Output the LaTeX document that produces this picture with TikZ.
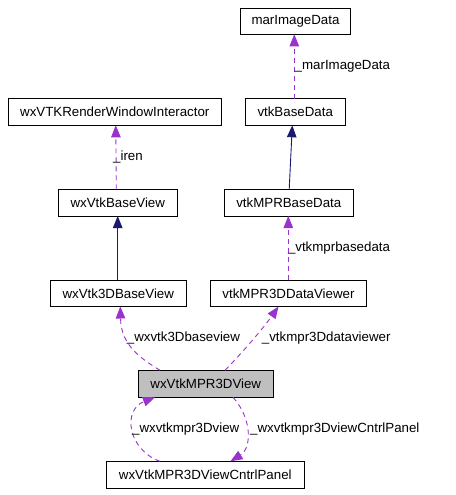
\documentclass[tikz,border=0pt]{standalone}
\usepackage{fontspec}
\setmainfont{Liberation Sans}
\usetikzlibrary{arrows.meta}
\definecolor{edgepurple}{RGB}{154,50,205}
\definecolor{edgenavy}{RGB}{25,25,112}
\definecolor{boxgray}{RGB}{191,191,191}
\tikzset{
  cls/.style={draw=black, line width=0.9pt, fill=white, inner sep=0pt, minimum height=26.5pt, font=\fontsize{13.3}{15}\selectfont},
  usage/.style={draw=edgepurple, line width=0.9pt, dash pattern=on 5pt off 4pt, -{Triangle[length=12pt,width=9.5pt]}, arrows={-{Triangle[length=12pt,width=9.5pt,fill=edgepurple,color=edgepurple]}}},
  inherit/.style={draw=edgenavy, line width=0.9pt, -{Triangle[length=12pt,width=9.5pt,fill=edgenavy,color=edgenavy]}},
  lbl/.style={inner sep=0pt, anchor=base west, font=\fontsize{13.3}{15}\selectfont}
}
\begin{document}
\begin{tikzpicture}[x=1pt,y=-1pt]
\useasboundingbox (0,0) rectangle (455,495);
\node[cls, minimum width=110pt] (mar) at (295.5,21.3) {marImageData};
\node[cls, minimum width=100pt] (vbd) at (295.2,112) {vtkBaseData};
\node[cls, minimum width=213pt] (rwi) at (114.8,112) {wxVTKRenderWindowInteractor};
\node[cls, minimum width=119pt] (wbv) at (117.8,202.7) {wxVtkBaseView};
\node[cls, minimum width=129pt] (mbd) at (288.8,202.7) {vtkMPRBaseData};
\node[cls, minimum width=136pt] (w3d) at (118.3,293.3) {wxVtk3DBaseView};
\node[cls, minimum width=156pt] (m3d) at (288.5,293.3) {vtkMPR3DDataViewer};
\node[cls, minimum width=135pt, fill=boxgray] (main) at (205.8,383.8) {wxVtkMPR3DView};
\node[cls, minimum width=198pt] (cp) at (205.3,474.7) {wxVtkMPR3DViewCntrlPanel};

\coordinate (a1) at (294.3,98.6);
\coordinate (a2) at (116.3,189.3);
\coordinate (a3) at (289.2,189.3);
\coordinate (a4) at (117.7,280);
\coordinate (a5) at (288.3,280);
\coordinate (a6) at (160,370.3);
\coordinate (a7) at (225,370.3);
\coordinate (a8) at (233,397.3);
\coordinate (a9) at (160,461.3);

\draw[usage] (a1) -- (294.3,34.3);
\draw[usage] (a2) -- (115.8,125.3);
\draw[inherit] (a3) -- (292.3,125.3);
\draw[inherit] (a4) -- (117.7,216);
\draw[usage] (a5) -- (288.3,216);
\draw[usage] (a6) .. controls (140,358) and (121,345) .. (120.3,306.5);
\draw[usage] (a7) .. controls (240,355) and (262,330) .. (278.5,306.5);
\draw[usage] (a8) .. controls (252,418) and (252,448) .. (230.5,461.3);
\draw[usage] (a9) .. controls (128,450) and (122,410) .. (155,397.3);

\node[lbl] (l1) at (294.5,70) {\_marImageData};
\node[lbl] (l2) at (113,160.7) {\_iren};
\node[lbl] (l3) at (287.8,251.7) {\_vtkmprbasedata};
\node[lbl] (l4) at (126.7,341.7) {\_wxvtk3Dbaseview};
\node[lbl] (l5) at (261.7,341.7) {\_vtkmpr3Ddataviewer};
\node[lbl] (l6) at (132,432.7) {\_wxvtkmpr3Dview};
\node[lbl] (l7) at (250,432.7) {\_wxvtkmpr3DviewCntrlPanel};
\end{tikzpicture}
\end{document}
